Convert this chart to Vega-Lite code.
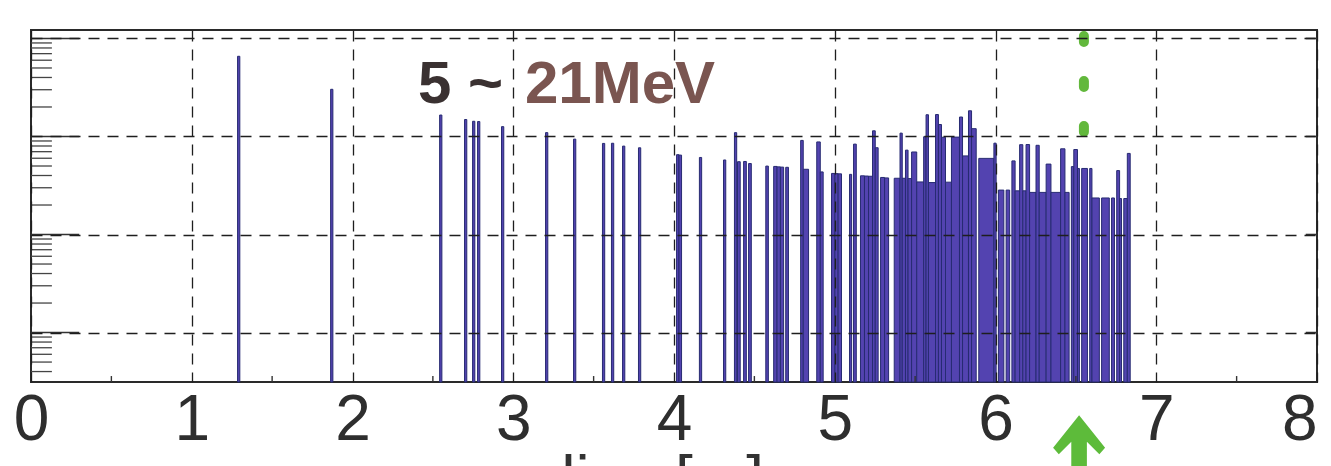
{
  "$schema": "https://vega.github.io/schema/vega-lite/v6.json",
  "width": 1286,
  "height": 352,
  "autosize": {"type": "none"},
  "padding": {"left": 31, "top": 30, "right": 14, "bottom": 84},
  "background": "white",
  "config": {
    "view": {"stroke": "#2a2a2a", "strokeWidth": 2},
    "font": "Liberation Sans"
  },
  "datasets": {
    "bins": [
      {"r":1.285,"r2":1.299,"n":6580},
      {"r":1.864,"r2":1.878,"n":3030},
      {"r":2.542,"r2":2.556,"n":1655},
      {"r":2.697,"r2":2.711,"n":1490},
      {"r":2.747,"r2":2.761,"n":1430},
      {"r":2.778,"r2":2.792,"n":1420},
      {"r":2.927,"r2":2.941,"n":1260},
      {"r":3.201,"r2":3.215,"n":1095},
      {"r":3.375,"r2":3.389,"n":940},
      {"r":3.555,"r2":3.569,"n":850},
      {"r":3.611,"r2":3.625,"n":853},
      {"r":3.680,"r2":3.694,"n":798},
      {"r":3.779,"r2":3.793,"n":767},
      {"r":4.016,"r2":4.031,"n":652},
      {"r":4.031,"r2":4.047,"n":646},
      {"r":4.158,"r2":4.172,"n":611},
      {"r":4.308,"r2":4.322,"n":576},
      {"r":4.376,"r2":4.390,"n":1094},
      {"r":4.395,"r2":4.412,"n":553},
      {"r":4.433,"r2":4.450,"n":556},
      {"r":4.464,"r2":4.481,"n":530},
      {"r":4.571,"r2":4.587,"n":499},
      {"r":4.620,"r2":4.641,"n":495},
      {"r":4.641,"r2":4.662,"n":490},
      {"r":4.662,"r2":4.682,"n":487},
      {"r":4.695,"r2":4.712,"n":485},
      {"r":4.788,"r2":4.804,"n":912},
      {"r":4.804,"r2":4.837,"n":463},
      {"r":4.888,"r2":4.910,"n":880},
      {"r":4.910,"r2":4.928,"n":435},
      {"r":4.980,"r2":5.001,"n":420},
      {"r":5.001,"r2":5.021,"n":418},
      {"r":5.021,"r2":5.042,"n":416},
      {"r":5.092,"r2":5.105,"n":411},
      {"r":5.117,"r2":5.134,"n":836},
      {"r":5.160,"r2":5.185,"n":397},
      {"r":5.185,"r2":5.210,"n":395},
      {"r":5.210,"r2":5.235,"n":393},
      {"r":5.235,"r2":5.252,"n":1143},
      {"r":5.252,"r2":5.270,"n":768},
      {"r":5.285,"r2":5.310,"n":382},
      {"r":5.310,"r2":5.335,"n":378},
      {"r":5.370,"r2":5.406,"n":375},
      {"r":5.406,"r2":5.420,"n":1082},
      {"r":5.420,"r2":5.440,"n":375},
      {"r":5.440,"r2":5.456,"n":726},
      {"r":5.456,"r2":5.478,"n":372},
      {"r":5.478,"r2":5.510,"n":695},
      {"r":5.510,"r2":5.553,"n":344},
      {"r":5.553,"r2":5.568,"n":995},
      {"r":5.568,"r2":5.583,"n":1667},
      {"r":5.583,"r2":5.627,"n":339},
      {"r":5.627,"r2":5.645,"n":1675},
      {"r":5.645,"r2":5.664,"n":1325},
      {"r":5.664,"r2":5.689,"n":982},
      {"r":5.689,"r2":5.726,"n":342},
      {"r":5.726,"r2":5.776,"n":986},
      {"r":5.776,"r2":5.795,"n":1580},
      {"r":5.795,"r2":5.832,"n":634},
      {"r":5.832,"r2":5.851,"n":1829},
      {"r":5.851,"r2":5.880,"n":1202},
      {"r":5.896,"r2":5.990,"n":598},
      {"r":5.990,"r2":6.004,"n":855},
      {"r":6.018,"r2":6.052,"n":284},
      {"r":6.066,"r2":6.088,"n":284},
      {"r":6.102,"r2":6.122,"n":564},
      {"r":6.122,"r2":6.150,"n":279},
      {"r":6.150,"r2":6.170,"n":825},
      {"r":6.170,"r2":6.190,"n":279},
      {"r":6.190,"r2":6.212,"n":828},
      {"r":6.212,"r2":6.252,"n":269},
      {"r":6.252,"r2":6.272,"n":813},
      {"r":6.272,"r2":6.315,"n":269},
      {"r":6.315,"r2":6.345,"n":523},
      {"r":6.345,"r2":6.405,"n":269},
      {"r":6.405,"r2":6.432,"n":749},
      {"r":6.432,"r2":6.458,"n":269},
      {"r":6.472,"r2":6.487,"n":493},
      {"r":6.487,"r2":6.510,"n":736},
      {"r":6.510,"r2":6.522,"n":472},
      {"r":6.536,"r2":6.572,"n":472},
      {"r":6.586,"r2":6.600,"n":472},
      {"r":6.600,"r2":6.646,"n":236},
      {"r":6.660,"r2":6.708,"n":236},
      {"r":6.722,"r2":6.740,"n":236},
      {"r":6.754,"r2":6.772,"n":449},
      {"r":6.772,"r2":6.784,"n":233},
      {"r":6.798,"r2":6.820,"n":233},
      {"r":6.820,"r2":6.838,"n":672}
    ],
    "yminor": [
      {"v":4},{"v":5},{"v":6},{"v":7},{"v":8},{"v":9},
      {"v":20},{"v":30},{"v":40},{"v":50},{"v":60},{"v":70},{"v":80},{"v":90},
      {"v":200},{"v":300},{"v":400},{"v":500},{"v":600},{"v":700},{"v":800},{"v":900},
      {"v":2000},{"v":3000},{"v":4000},{"v":5000},{"v":6000},{"v":7000},{"v":8000},{"v":9000}
    ],
    "ymajor": [{"v":10},{"v":100},{"v":1000},{"v":10000}],
    "xhalf": [{"t":0.5},{"t":1.5},{"t":2.5},{"t":3.5},{"t":4.5},{"t":5.5},{"t":6.5},{"t":7.5}],
    "one": [{"k": 1}]
  },
  "layer": [
    {
      "data": {"name": "bins"},
      "mark": {"type": "rect", "fill": "#5343b0", "stroke": "#272b72", "strokeWidth": 1},
      "encoding": {
        "x": {
          "field": "r", "type": "quantitative",
          "scale": {"domain": [0, 8], "nice": false, "zero": false},
          "axis": {
            "values": [0,1,2,3,4,5,6,7,8],
            "format": "d",
            "title": "radius [m]",
            "titleFont": "Liberation Sans",
            "titleFontSize": 64,
            "titleFontWeight": "normal",
            "titleColor": "#333333",
            "titleX": 592,
            "titleY": 118,
            "titleAlign": "center",
            "titleBaseline": "alphabetic",
            "labelFont": "Liberation Sans",
            "labelFontSize": 64,
            "labelColor": "#2e2e2e",
            "labelPadding": 6,
            "labelAlign": {"condition": {"test": "datum.value == 8", "value": "right"}, "value": "center"},
            "labelFlush": false,
            "labelOverlap": false,
            "labelBound": false,
            "ticks": false,
            "domain": false,
            "grid": true,
            "gridColor": "#1e1e1e",
            "gridDash": [11, 8],
            "gridWidth": 1.3,
            "gridOpacity": 1,
            "zindex": 1
          }
        },
        "x2": {"field": "r2"},
        "y": {
          "field": "n", "type": "quantitative",
          "scale": {"type": "log", "domain": [3.13, 12200], "nice": false},
          "axis": {
            "values": [10, 100, 1000, 10000],
            "title": null,
            "labels": false,
            "ticks": false,
            "domain": false,
            "grid": true,
            "gridColor": "#1e1e1e",
            "gridDash": [11, 8],
            "gridWidth": 1.3,
            "gridOpacity": 1,
            "zindex": 1
          }
        },
        "y2": {"datum": 3.13}
      }
    },
    {
      "data": {"name": "yminor"},
      "mark": {"type": "rule", "color": "#444444", "strokeWidth": 1.3},
      "encoding": {
        "y": {"field": "v", "type": "quantitative", "title": null},
        "x": {"datum": 0},
        "x2": {"datum": 0.13}
      }
    },
    {
      "data": {"name": "ymajor"},
      "mark": {"type": "rule", "color": "#333333", "strokeWidth": 1.6},
      "encoding": {
        "y": {"field": "v", "type": "quantitative", "title": null},
        "x": {"datum": 0},
        "x2": {"datum": 0.3}
      }
    },
    {
      "data": {"name": "ymajor"},
      "mark": {"type": "rule", "color": "#333333", "strokeWidth": 1.6},
      "encoding": {
        "y": {"field": "v", "type": "quantitative", "title": null},
        "x": {"datum": 7.93},
        "x2": {"datum": 8}
      }
    },
    {
      "data": {"name": "xhalf"},
      "mark": {"type": "rule", "color": "#333333", "strokeWidth": 1.4},
      "encoding": {
        "x": {"field": "t", "type": "quantitative"},
        "y": {"datum": 3.13, "title": null},
        "y2": {"datum": 3.6}
      }
    },
    {
      "data": {"name": "one"},
      "mark": {"type": "rule", "color": "#62b83c", "strokeWidth": 10, "strokeDash": [6, 39], "strokeDashOffset": 39, "strokeCap": "round"},
      "encoding": {
        "x": {"datum": 6.55},
        "y": {"datum": 12200, "title": null},
        "y2": {"datum": 900}
      }
    },
    {
      "data": {"name": "one"},
      "mark": {"type": "point", "shape": "M0,-1L1,0.25L0.78,0.5L0.3,0.02L0.3,1.2L-0.3,1.2L-0.3,0.02L-0.78,0.5L-1,0.25Z", "filled": true, "color": "#5dbb3a", "size": 2704, "opacity": 1},
      "encoding": {
        "x": {"datum": 6.52},
        "y": {"datum": 0.78, "title": null}
      }
    },
    {
      "data": {"name": "one"},
      "mark": {"type": "text", "text": "5 ~", "font": "Liberation Sans", "fontWeight": "bold", "fontSize": 60, "align": "left", "baseline": "alphabetic", "color": "#3a3131"},
      "encoding": {
        "x": {"datum": 2.407},
        "y": {"datum": 2197, "title": null}
      }
    },
    {
      "data": {"name": "one"},
      "mark": {"type": "text", "text": "21MeV", "font": "Liberation Sans", "fontWeight": "bold", "fontSize": 60, "align": "left", "baseline": "alphabetic", "color": "#7a5550"},
      "encoding": {
        "x": {"datum": 3.073},
        "y": {"datum": 2197, "title": null}
      }
    }
  ]
}
